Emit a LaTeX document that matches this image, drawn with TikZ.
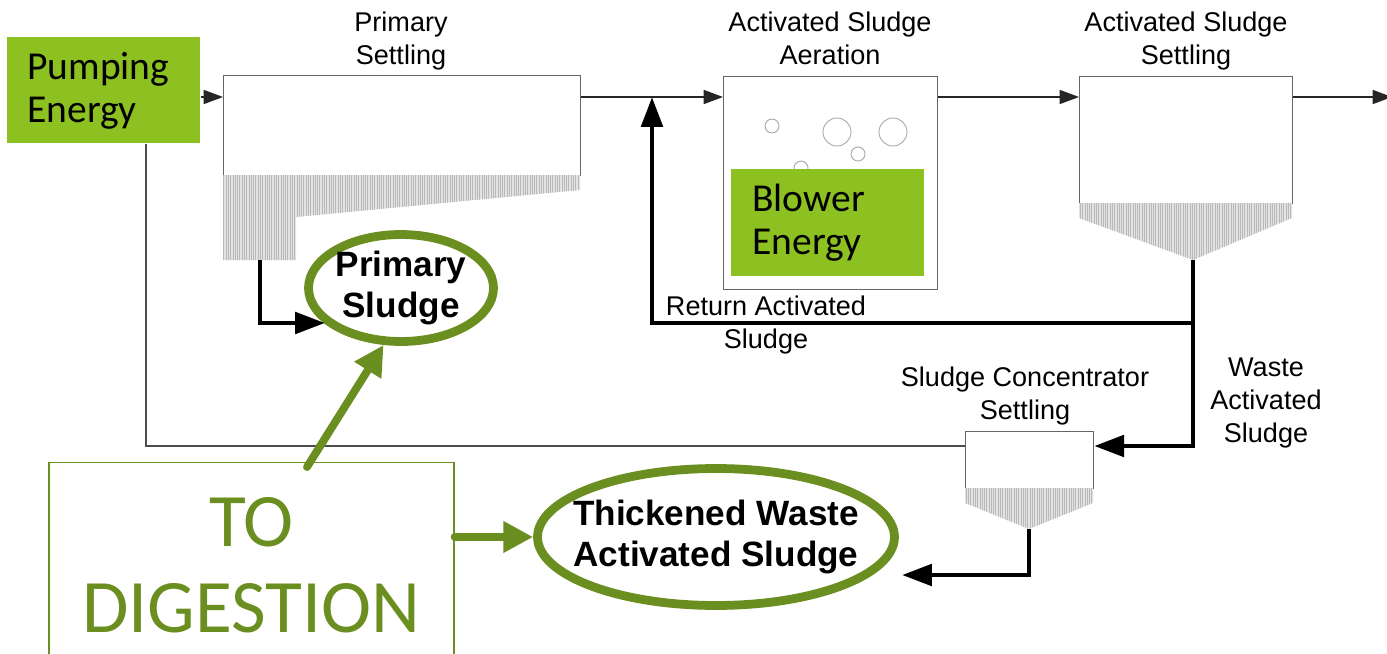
\documentclass[tikz,border=0pt]{standalone}
\usepackage{fontspec}
\setmainfont{Liberation Sans}
\newfontfamily\calfont{Carlito}
\usepackage{tikz}
\usetikzlibrary{arrows.meta,patterns.meta,shapes.geometric}
\definecolor{leafGreen}{HTML}{8DC021}
\definecolor{oliveGreen}{HTML}{6A8E1F}
\definecolor{tankLine}{HTML}{666666}
\tikzset{
  tankBox/.style={draw=tankLine, line width=0.7pt, fill=white, inner sep=0pt, anchor=north west},
  sludgeFill/.style={fill=gray!22, postaction={pattern={Lines[angle=90,distance=1.3pt,line width=0.4pt]}, pattern color=gray!55}},
  bubble/.style={draw=gray!70, line width=0.5pt},
  energyBox/.style={fill=leafGreen, inner ysep=0pt, align=left, anchor=north west,
    font=\calfont\fontsize{22.5}{24.5}\selectfont},
  tankLabel/.style={align=center, font=\fontsize{15.4}{18.8}\selectfont},
  sludgeOval/.style={ellipse, draw=oliveGreen, line width=5pt, inner sep=0pt},
  ovalText/.style={align=center, font=\bfseries\fontsize{20}{23.3}\selectfont},
  thinFlow/.style={draw=black!85, line width=0.8pt, -{Triangle[length=11pt,width=8pt]}},
  thinLine/.style={draw=black!70, line width=0.8pt},
  thickFlow/.style={draw=black, line width=2.8pt, -{Triangle[length=17pt,width=12pt]}},
  greenFlow/.style={draw=oliveGreen, line width=4.5pt, line cap=round, -{Triangle[length=17pt,width=17pt]}}
}

\begin{document}
\begin{tikzpicture}[x=0.02cm, y=-0.02cm]
  \useasboundingbox (0,0) rectangle (1387,653);

  % key levels
  \coordinate (flowY) at (0,97);
  \coordinate (rasY) at (0,323);
  \coordinate (wasY) at (0,446);
  \coordinate (pumpX) at (146,0);

  % tanks
  \node[tankBox, minimum width=7.14cm, minimum height=2cm] (primTank) at (223,75) {};
  \node[tankBox, minimum width=4.28cm, minimum height=4.26cm] (aerTank) at (723,76) {};
  \node[tankBox, minimum width=4.26cm, minimum height=2.54cm] (setTank) at (1079,76) {};
  \node[tankBox, minimum width=2.56cm, minimum height=1.14cm] (concTank) at (965,431) {};

  % sludge layers
  \fill[sludgeFill] (223,175) -- (580,175) -- (580,190) -- (296,217) -- (296,260) -- (223,260) -- cycle;
  \fill[sludgeFill] (1079,203) -- (1292,203) -- (1292,218) -- (1193,260) -- (1079,218) -- cycle;
  \fill[sludgeFill] (965,488) -- (1093,488) -- (1093,503) -- (1029,529) -- (965,503) -- cycle;
  \coordinate (primOut) at (260,260);
  \coordinate (setApex) at (1193,260);
  \coordinate (concApex) at (1029,529);

  % air bubbles
  \foreach \bx/\by/\br in {772/126/7, 837/132/14, 893/132/14, 858/154/7, 801/168/7}
    \draw[bubble] (\bx,\by) circle (\br);

  % energy boxes
  \node[energyBox, text width=3.06cm, inner xsep=0.4cm, minimum height=2.12cm] (pump) at (7,37) {Pumping\\Energy};
  \node[energyBox, text width=3.02cm, inner xsep=0.42cm, minimum height=2.14cm] (blower) at (731,169) {Blower\\Energy};

  % labels
  \node[tankLabel] (primLbl) at (401,41) {Primary\\Settling};
  \node[tankLabel] (aerLbl) at (830,38) {Activated Sludge\\Aeration};
  \node[tankLabel] (setLbl) at (1186,41) {Activated Sludge\\Settling};
  \node[tankLabel] (concLbl) at (1025,396) {Sludge Concentrator\\Settling};
  \node[tankLabel] (wasLbl) at (1266,403) {Waste\\Activated\\Sludge};
  \node[tankLabel] (rasLbl) at (766,325) {Return Activated\\Sludge};

  % sludge products
  \node[sludgeOval, minimum width=3.7cm, minimum height=2.14cm,
    label={[ovalText]center:Primary\\Sludge}] (primSludge) at (401,288) {};
  \node[sludgeOval, minimum width=7.14cm, minimum height=2.74cm,
    label={[ovalText]center:Thickened Waste\\Activated Sludge}] (twas) at (716,537) {};
  \node[draw=oliveGreen, line width=0.8pt, anchor=north, minimum width=8.1cm, minimum height=4.12cm,
    align=center, text=oliveGreen, font=\calfont\fontsize{43}{49}\selectfont] (digest) at (251.5,462) {TO\\DIGESTION};

  \coordinate (psTip) at (325,323);
  \coordinate (twasTip) at (902,575);
  \coordinate (rasJoin) at (652,97);
  \coordinate (outlet) at (1392,97);

  % main flow
  \draw[thinFlow] (pump.east |- flowY) -- (primTank.west |- flowY);
  \draw[thinFlow] (primTank.east |- flowY) -- (aerTank.west |- flowY);
  \draw[thinFlow] (aerTank.east |- flowY) -- (setTank.west |- flowY);
  \draw[thinFlow] (setTank.east |- flowY) -- (outlet);
  \draw[thinLine] (pump.south -| pumpX) |- (concTank.west |- wasY);

  % sludge lines
  \draw[thickFlow] (primOut) |- (psTip);
  \draw[thickFlow] (setApex |- rasY) -| (rasJoin);
  \draw[thickFlow] (setApex) |- (concTank.east |- wasY);
  \draw[thickFlow] (concApex) |- (twasTip);

  % digestion
  \draw[greenFlow] (307,467) -- (primSludge.253);
  \draw[greenFlow] (digest.east |- twas.west) -- (twas.west);
\end{tikzpicture}
\end{document}
